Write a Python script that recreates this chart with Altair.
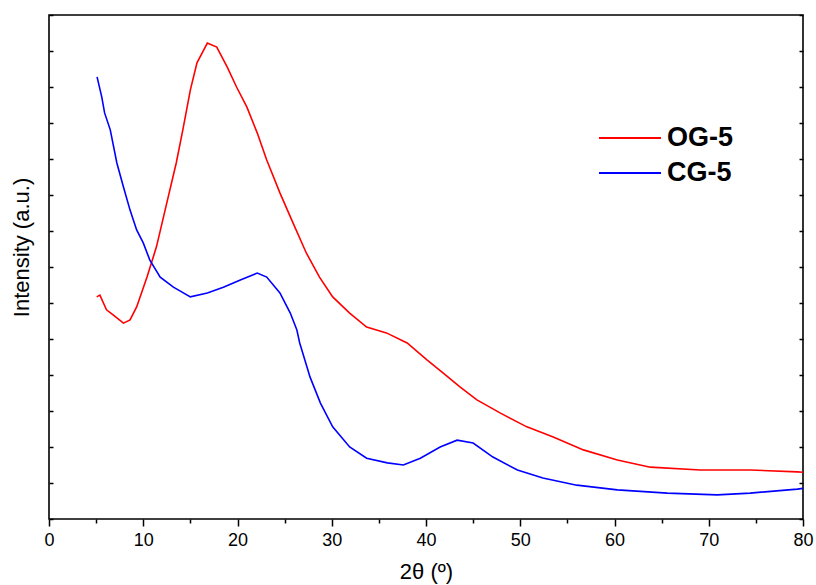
import altair as alt
import pandas as pd

# OG-5 (red)
og_x = [5.06, 5.4, 6.1, 6.8, 7.9, 8.6, 9.3, 10.4, 11.4, 12.5, 13.5, 14.2, 15.0, 15.7,
        16.8, 17.8, 18.9, 19.9, 21.0, 22.1, 23.1, 24.5, 25.9, 27.3, 28.7, 30.1, 31.9,
        33.7, 35.8, 38.0, 40.1, 41.8, 43.6, 45.4, 47.9, 50.7, 53.5, 56.7, 60.3, 63.8,
        69.1, 74.4, 79.4, 80.0]
og_y = [6.17, 6.22, 5.81, 5.67, 5.44, 5.53, 5.89, 6.72, 7.56, 8.78, 9.89, 10.81, 11.92, 12.67,
        13.22, 13.11, 12.56, 12.0, 11.44, 10.72, 9.97, 9.06, 8.22, 7.39, 6.72, 6.17, 5.72,
        5.33, 5.17, 4.89, 4.42, 4.06, 3.67, 3.31, 2.94, 2.56, 2.28, 1.92, 1.64, 1.44,
        1.36, 1.36, 1.31, 1.30]

# CG-5 (blue)
cg_x = [5.1, 5.6, 5.9, 6.5, 7.2, 7.9, 8.6, 9.3, 10.0, 10.7, 11.8, 13.2, 15.0, 16.8,
        18.5, 20.3, 22.1, 23.1, 24.5, 25.6, 26.3, 26.6, 27.7, 28.8, 30.1, 31.9, 33.7,
        35.9, 37.6, 39.4, 41.5, 43.3, 45.0, 47.1, 49.7, 52.4, 56.0, 60.3, 65.6, 70.9,
        74.4, 79.4, 80.0]
cg_y = [12.28, 11.72, 11.28, 10.81, 9.89, 9.22, 8.58, 8.03, 7.67, 7.19, 6.72, 6.44, 6.17, 6.28,
        6.44, 6.64, 6.83, 6.72, 6.28, 5.72, 5.25, 4.89, 3.94, 3.22, 2.56, 2.0, 1.69,
        1.56, 1.5, 1.69, 2.0, 2.19, 2.11, 1.72, 1.36, 1.14, 0.94, 0.81, 0.72, 0.67,
        0.72, 0.83, 0.85]

series = ["OG-5", "CG-5"]
colors = ["#FF0000", "#0000FF"]
x_ticks = list(range(0, 81, 5))
y_ticks = list(range(0, 15))

df = pd.concat([
    pd.DataFrame({"x": og_x, "y": og_y, "s": series[0], "o": range(len(og_x))}),
    pd.DataFrame({"x": cg_x, "y": cg_y, "s": series[1], "o": range(len(cg_x))}),
])

x_axis = alt.Axis(values=x_ticks, domain=False, grid=False,
                  tickSize={"condition": {"test": "datum.value % 10 === 0", "value": 7}, "value": 4},
                  tickColor="black", tickWidth=1.5,
                  labelExpr="datum.value % 10 === 0 ? datum.label : ''",
                  labelFlush=False,
                  labelFont="Liberation Sans", labelFontSize=18, labelColor="black",
                  labelPadding=5,
                  title="2θ (º)", titleFont="Liberation Sans", titleFontSize=22,
                  titleFontWeight="normal", titleColor="black", titlePadding=12)
x_scale = alt.Scale(domain=[0, 80], nice=False)
y_scale = alt.Scale(domain=[0, 14], nice=False)

lines = alt.Chart(df).mark_line(strokeWidth=1.6).encode(
    x=alt.X("x:Q", scale=x_scale, axis=x_axis),
    y=alt.Y("y:Q", scale=y_scale,
            axis=alt.Axis(orient="left", values=y_ticks, domain=False, grid=False, labels=False,
                          tickSize=4, tickWidth=1.5, tickColor="black", offset=-4,
                          title="Intensity (a.u.)", titleFont="Liberation Sans", titleFontSize=22,
                          titleFontWeight="normal", titleColor="black", titlePadding=15,
                          titleY=232, titleAlign="center")),
    color=alt.Color("s:N", scale=alt.Scale(domain=series, range=colors), sort=series,
                    legend=alt.Legend(orient="none", legendX=549, legendY=110, title=None,
                                      symbolType="stroke", symbolSize=3844, symbolStrokeWidth=2,
                                      clipHeight=26, rowPadding=8,
                                      labelFont="Liberation Sans", labelFontSize=27,
                                      labelFontWeight="bold", labelColor="black",
                                      labelOffset=5)),
    order="o:Q",
)

right = alt.Chart(df).mark_line(opacity=0).encode(
    x=alt.X("x:Q", scale=x_scale, axis=x_axis),
    y=alt.Y("y:Q", scale=y_scale,
            axis=alt.Axis(orient="right", values=y_ticks, domain=False, grid=False, labels=False,
                          tickSize=4, tickWidth=1.5, tickColor="black", offset=-4, title=None)),
    detail="s:N",
)

chart = alt.layer(lines, right).resolve_axis(y="independent").properties(
    width=754, height=504,
    padding={"left": 49, "top": 15, "right": 13, "bottom": 66},
    autosize=alt.AutoSizeParams(type="none"),
    background="white",
).configure_view(stroke="black", strokeWidth=1.6)

chart.save("out.html", embed_options={"renderer": "svg", "actions": False})
